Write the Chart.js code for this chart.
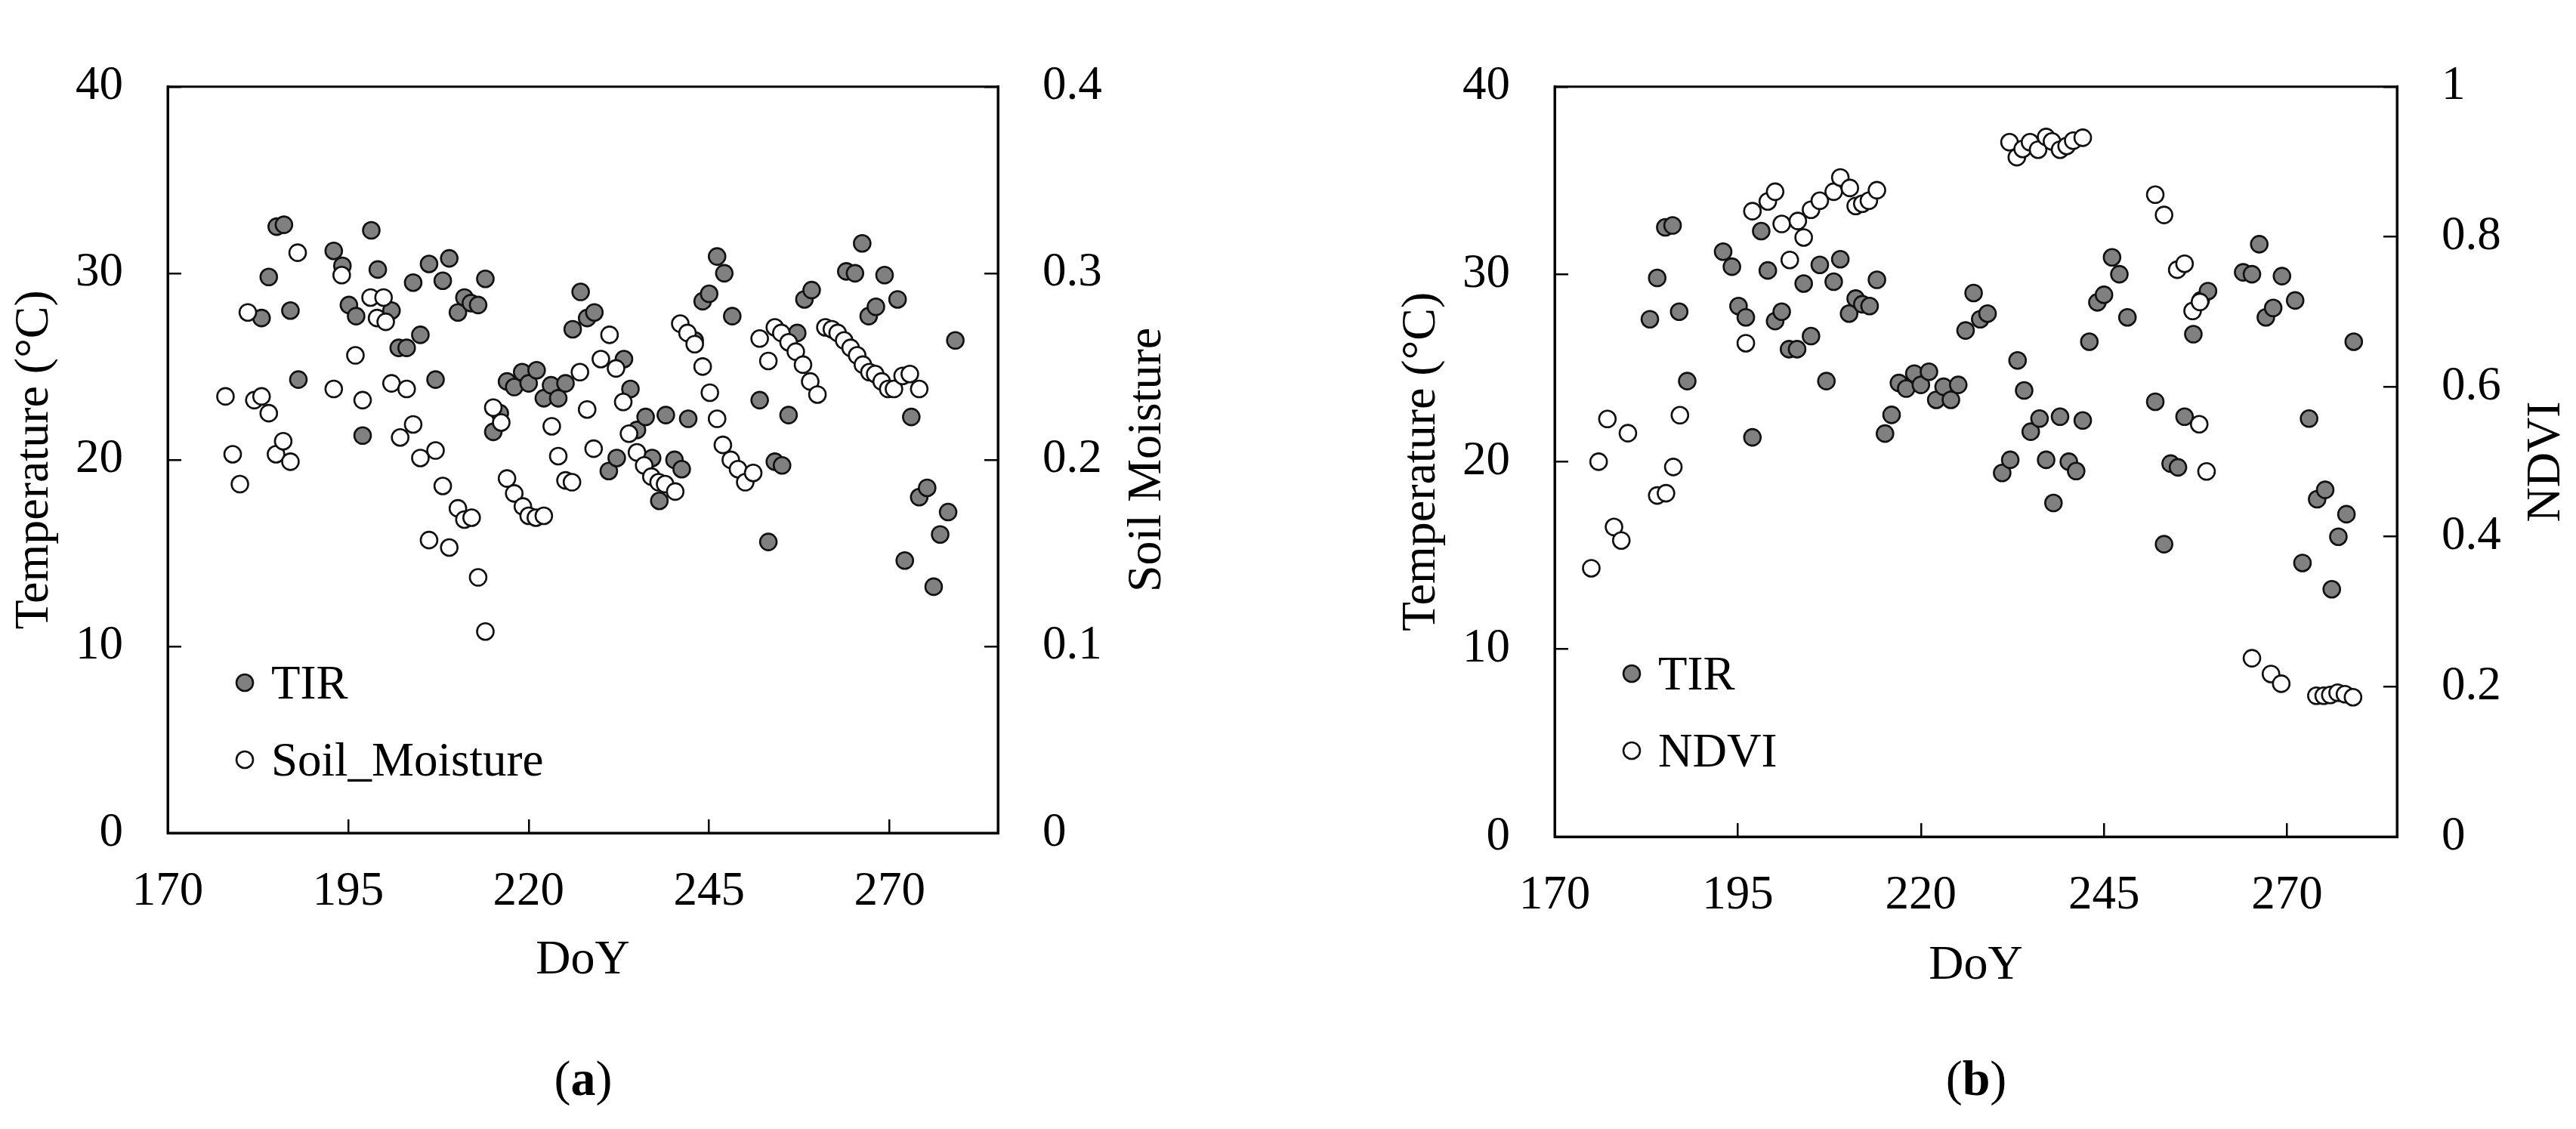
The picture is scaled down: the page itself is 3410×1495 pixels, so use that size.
<!DOCTYPE html>
<html>
<head>
<meta charset="utf-8">
<title>TIR vs Soil Moisture / NDVI</title>
<script src="https://cdn.jsdelivr.net/npm/chart.js@4.4.1/dist/chart.umd.min.js"></script>
<style>
  html, body { margin: 0; padding: 0; background: #fff; }
  body { position: relative; width: 3410px; height: 1495px; overflow: hidden;
         font-family: "Liberation Serif", "Times New Roman", serif; color: #000; }
  canvas { position: absolute; top: 0; }
  #chartA { left: 0; }
  #chartB { left: 1836px; }
  .cap { position: absolute; top: 1395px; font-size: 66px; line-height: 1; transform: translateX(-50%); }
  .cap b { font-weight: bold; }
</style>
</head>
<body>
<canvas id="chartA" width="1700" height="1495"></canvas>
<canvas id="chartB" width="1574" height="1495"></canvas>
<div class="cap" style="left:772px">(<b>a</b>)</div>
<div class="cap" style="left:2616px">(<b>b</b>)</div>

<script>
const FONT = '"Liberation Serif", "Times New Roman", serif';

// axis ticks
const doyTicks = [170, 195, 220, 245, 270];
const tempTicks = [0, 10, 20, 30, 40];
const soilTicks = [0, 0.1, 0.2, 0.3, 0.4];
const ndviTicks = [0, 0.2, 0.4, 0.6, 0.8, 1];

// TIR land surface temperature (same series in both panels)
const tirDoY = [
  183.0, 184.0, 185.1, 186.1, 187.0, 188.1, 193.0, 194.2, 195.1, 196.1,
  197.0, 198.2, 199.1, 200.1, 201.0, 202.0, 203.1, 204.0, 205.0, 206.2,
  207.1, 208.1, 209.0, 210.2, 211.1, 212.0, 213.0, 214.0, 215.1, 216.0,
  217.0, 218.0, 219.1, 220.0, 221.1, 222.1, 223.1, 224.1, 225.1, 226.1,
  227.2, 228.1, 229.1, 231.1, 232.2, 233.2, 234.1, 235.0, 236.2, 237.1,
  238.1, 239.0, 240.2, 241.2, 242.1, 243.0, 244.1, 245.0, 246.1, 247.1,
  248.2, 252.0, 253.2, 254.1, 255.1, 256.0, 257.2, 258.2, 259.2, 264.0,
  265.2, 266.2, 267.1, 268.1, 269.3, 271.1, 272.1, 273.0, 274.1, 275.2,
  276.1, 277.0, 278.1, 279.1,
];
const tirTemp = [
  27.6, 29.8, 32.5, 32.6, 28.0, 24.3, 31.2, 30.4, 28.3, 27.7,
  21.3, 32.3, 30.2, 27.5, 28.0, 26.0, 26.0, 29.5, 26.7, 30.5,
  24.3, 29.6, 30.8, 27.9, 28.7, 28.4, 28.3, 29.7, 21.5, 22.5,
  24.2, 23.9, 24.7, 24.1, 24.8, 23.3, 24.0, 23.3, 24.1, 27.0,
  29.0, 27.6, 27.9, 19.4, 20.1, 25.4, 23.8, 21.6, 22.3, 20.1,
  17.8, 22.4, 20.0, 19.5, 22.2, 26.4, 28.5, 28.9, 30.9, 30.0,
  27.7, 23.2, 15.6, 19.9, 19.7, 22.4, 26.8, 28.6, 29.1, 30.1,
  30.0, 31.6, 27.7, 28.2, 29.9, 28.6, 14.6, 22.3, 18.0, 18.5,
  13.2, 16.0, 17.2, 26.4,
];

// soil moisture, panel (a)
const soilDoY = [
  178.0, 179.0, 180.0, 181.1, 182.0, 183.0, 184.0, 185.0, 186.0, 187.0,
  188.0, 193.0, 194.1, 196.0, 197.0, 198.1, 199.0, 199.9, 200.2, 201.0,
  202.2, 203.1, 204.0, 205.0, 206.2, 207.1, 208.1, 209.0, 210.2, 211.1,
  212.1, 213.0, 214.0, 215.1, 216.2, 217.0, 218.0, 219.2, 220.0, 221.0,
  222.1, 223.2, 224.1, 225.1, 226.0, 227.1, 228.1, 229.0, 230.0, 231.2,
  232.1, 233.1, 233.9, 235.0, 236.0, 237.0, 238.0, 238.9, 240.3, 241.0,
  242.0, 243.0, 244.1, 245.1, 246.1, 246.9, 248.0, 249.0, 250.0, 251.1,
  252.0, 253.2, 254.1, 255.0, 256.0, 257.0, 258.0, 259.0, 260.0, 261.1,
  262.0, 262.8, 263.7, 264.6, 265.5, 266.3, 267.2, 268.0, 268.9, 269.8,
  270.6, 271.8, 272.8, 274.1,
];
const soilMoisture = [
  0.234, 0.203, 0.187, 0.279, 0.232, 0.234, 0.225, 0.203, 0.210, 0.199,
  0.311, 0.238, 0.299, 0.256, 0.232, 0.287, 0.276, 0.287, 0.274, 0.241,
  0.212, 0.238, 0.219, 0.201, 0.157, 0.205, 0.186, 0.153, 0.174, 0.168,
  0.169, 0.137, 0.108, 0.228, 0.220, 0.190, 0.182, 0.175, 0.170, 0.169,
  0.170, 0.218, 0.202, 0.189, 0.188, 0.247, 0.227, 0.206, 0.254, 0.267,
  0.249, 0.231, 0.214, 0.204, 0.197, 0.191, 0.188, 0.187, 0.183, 0.273,
  0.268, 0.262, 0.250, 0.236, 0.222, 0.208, 0.200, 0.195, 0.188, 0.193,
  0.265, 0.253, 0.271, 0.268, 0.263, 0.258, 0.251, 0.242, 0.235, 0.271,
  0.270, 0.268, 0.264, 0.260, 0.256, 0.251, 0.247, 0.246, 0.242, 0.238,
  0.238, 0.245, 0.246, 0.238,
];

// NDVI, panel (b)
const ndviDoY = [
  175.0, 176.0, 177.2, 178.1, 179.1, 180.0, 184.0, 185.2, 186.2, 187.1,
  196.1, 197.0, 199.1, 200.1, 201.0, 202.1, 203.2, 204.0, 205.0, 206.2,
  208.1, 209.0, 210.3, 211.1, 212.0, 212.9, 214.0, 232.1, 233.1, 233.9,
  234.9, 236.0, 237.1, 237.9, 239.0, 239.9, 240.8, 242.1, 252.0, 253.2,
  255.0, 256.0, 257.1, 258.1, 258.0, 259.0, 265.2, 267.8, 269.2, 274.0,
  275.0, 275.9, 276.9, 277.9, 279.0,
];
const ndvi = [
  0.358, 0.500, 0.557, 0.413, 0.395, 0.538, 0.455, 0.458, 0.493, 0.562,
  0.658, 0.834, 0.847, 0.860, 0.817, 0.769, 0.821, 0.799, 0.836, 0.848,
  0.860, 0.879, 0.865, 0.841, 0.844, 0.848, 0.862, 0.926, 0.906, 0.917,
  0.926, 0.916, 0.933, 0.927, 0.916, 0.921, 0.928, 0.932, 0.856, 0.829,
  0.756, 0.764, 0.701, 0.713, 0.550, 0.487, 0.238, 0.217, 0.204, 0.188,
  0.188, 0.189, 0.192, 0.190, 0.186,
];

function toPoints(xs, ys) {
  return xs.map((x, i) => ({ x, y: ys[i] }));
}

function fixedTicks(values) {
  return (scale) => {
    scale.ticks = values.map((v) => ({ value: v }));
  };
}

function fmt(v) {
  return String(Number(v.toFixed(2)));
}

// closed box around the plot area
const framePlugin = {
  id: "frame",
  beforeDatasetsDraw(chart) {
    const { ctx, chartArea: a } = chart;
    ctx.save();
    ctx.strokeStyle = "#000";
    ctx.lineWidth = 3;
    ctx.strokeRect(a.left, a.top, a.right - a.left, a.bottom - a.top);
    ctx.restore();
  },
};

// legend drawn inside the plot, lower left
const insideLegend = {
  id: "insideLegend",
  afterDraw(chart, args, opts) {
    const { ctx, chartArea: a } = chart;
    ctx.save();
    ctx.font = `${opts.size}px ${FONT}`;
    opts.items.forEach((idx, i) => {
      const ds = chart.data.datasets[idx];
      const x = a.left + opts.dx;
      const y = a.bottom - opts.dy[i];
      ctx.beginPath();
      ctx.arc(x, y, ds.pointRadius, 0, Math.PI * 2);
      ctx.fillStyle = ds.backgroundColor;
      ctx.fill();
      ctx.lineWidth = ds.borderWidth;
      ctx.strokeStyle = ds.borderColor;
      ctx.stroke();
      ctx.fillStyle = "#000";
      ctx.textBaseline = "alphabetic";
      ctx.textAlign = "left";
      ctx.fillText(ds.label, x + opts.gap, y + 21);
    });
    ctx.restore();
  },
};

// right axis title, reading bottom to top like the left one
const rightTitle = {
  id: "rightTitle",
  afterDraw(chart, args, opts) {
    const { ctx, chartArea: a } = chart;
    ctx.save();
    ctx.translate(a.right + opts.offset, (a.top + a.bottom) / 2);
    ctx.rotate(-Math.PI / 2);
    ctx.font = `${opts.size}px ${FONT}`;
    ctx.fillStyle = "#000";
    ctx.textAlign = "center";
    ctx.textBaseline = "middle";
    ctx.fillText(opts.text, 0, 0);
    ctx.restore();
  },
};

function axisBase(ticks, width) {
  return {
    type: "linear",
    afterBuildTicks: fixedTicks(ticks),
    border: { display: true, color: "#000", width: 3 },
    grid: { drawOnChartArea: false, drawTicks: true, tickLength: -18, color: "#000", lineWidth: 2.5 },
    ticks: { color: "#000", font: { size: 63 }, padding: 77, callback: fmt },
    afterFit: (s) => { s.width = width; },
  };
}

function renderPanel(canvasId, p) {
  const x = axisBase(doyTicks, 0);
  x.position = "bottom";
  x.min = 170;
  x.max = 285;
  x.ticks = { color: "#000", font: { size: 63 }, padding: 59, maxRotation: 0, callback: fmt };
  x.afterFit = (s) => { s.height = 250; };
  x.title = { display: true, text: "DoY", color: "#000", font: { size: 64 }, padding: { top: 0, bottom: p.doyPad } };

  const y = axisBase(tempTicks, 222);
  y.position = "left";
  y.min = 0;
  y.max = 40;
  y.title = { display: true, text: "Temperature (°C)", color: "#000", font: { size: 64 }, padding: { top: 8, bottom: 0 } };

  const y2 = axisBase(p.rightTicks, p.rightWidth);
  y2.position = "right";
  y2.min = 0;
  y2.max = p.rightMax;

  return new Chart(document.getElementById(canvasId), {
    type: "scatter",
    data: {
      datasets: [
        {
          label: p.label,
          data: toPoints(p.doy, p.values),
          yAxisID: "y2",
          backgroundColor: "#ffffff",
          borderColor: "#111111",
          borderWidth: 2.6,
          pointRadius: 11,
        },
        {
          label: "TIR",
          data: toPoints(tirDoY, tirTemp),
          yAxisID: "y",
          backgroundColor: "#808080",
          borderColor: "#111111",
          borderWidth: 2.6,
          pointRadius: 11,
        },
      ],
    },
    options: {
      responsive: false,
      animation: false,
      devicePixelRatio: 1,
      font: { family: FONT },
      layout: { padding: { top: p.top, bottom: 1495 - 250 - p.bottom, left: 0, right: 0 } },
      plugins: {
        legend: { display: false },
        tooltip: { enabled: false },
        insideLegend: { items: [1, 0], dx: 102, dy: p.legendDy, gap: 35, size: 63 },
        rightTitle: { text: p.rightTitle, offset: 198, size: 64 },
      },
      scales: { x, y, y2 },
    },
    plugins: [framePlugin, insideLegend, rightTitle],
  });
}

Chart.defaults.font.family = FONT;
Chart.defaults.color = "#000";

renderPanel("chartA", {
  doy: soilDoY, values: soilMoisture, label: "Soil_Moisture",
  rightTitle: "Soil Moisture", rightTicks: soilTicks, rightMax: 0.4, rightWidth: 379,
  top: 61, bottom: 1103, doyPad: 42, legendDy: [199, 97],
});

renderPanel("chartB", {
  doy: ndviDoY, values: ndvi, label: "NDVI",
  rightTitle: "NDVI", rightTicks: ndviTicks, rightMax: 1, rightWidth: 237,
  top: 50, bottom: 1108, doyPad: 40, legendDy: [216, 114],
});
</script>
</body>
</html>
